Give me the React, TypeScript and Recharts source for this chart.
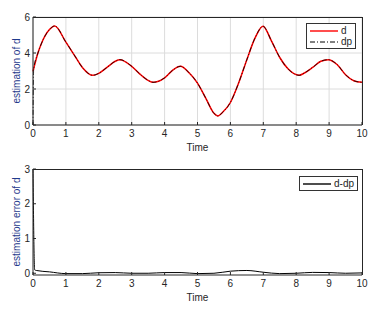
import React from 'react';
import {
  LineChart,
  Line,
  XAxis,
  YAxis,
  CartesianGrid,
  Legend,
} from 'recharts';

const timeTop = [
  0, 0.02, 0.15, 0.25, 0.5, 0.66, 1, 1.25, 1.5, 1.82, 2, 2.25, 2.5, 2.64, 3,
  3.25, 3.5, 3.65, 4, 4.25, 4.48, 4.75, 5, 5.25, 5.5, 5.62, 5.75, 6, 6.25, 6.5,
  6.75, 6.99, 7.25, 7.5, 7.75, 8.09, 8.25, 8.5, 8.75, 8.97, 9.25, 9.5, 9.75, 10,
];
const dValues = [
  2.98, 3.12, 4.0, 4.5, 5.3, 5.5, 4.6, 3.9, 3.2, 2.76, 2.87, 3.2, 3.54, 3.63,
  3.26, 2.83, 2.48, 2.37, 2.62, 3.05, 3.26, 2.89, 2.33, 1.49, 0.65, 0.5, 0.68,
  1.25, 2.33, 3.63, 4.84, 5.49, 4.66, 3.75, 3.12, 2.76, 2.89, 3.2, 3.54, 3.63,
  3.35, 2.79, 2.46, 2.37,
];
const dpValues = [
  0, 3.1, 4.0, 4.5, 5.3, 5.5, 4.6, 3.9, 3.2, 2.76, 2.87, 3.2, 3.54, 3.63,
  3.26, 2.83, 2.48, 2.37, 2.62, 3.05, 3.26, 2.89, 2.33, 1.49, 0.65, 0.5, 0.68,
  1.25, 2.33, 3.63, 4.84, 5.49, 4.66, 3.75, 3.12, 2.76, 2.89, 3.2, 3.54, 3.63,
  3.35, 2.79, 2.46, 2.37,
];

const timeErr = [
  0, 0.05, 0.1, 0.5, 1, 1.5, 2, 2.5, 3, 3.5, 4, 4.5, 5, 5.5, 6, 6.5, 7, 7.5,
  8, 8.5, 9, 9.5, 10,
];
const errValues = [
  3.0, 0.1, 0.08, 0.04, -0.01, -0.01, 0.015, 0.02, 0.0, 0.0, 0.02, 0.02,
  -0.01, 0.0, 0.06, 0.08, 0.03, -0.01, 0.0, 0.025, 0.02, 0.0, 0.01,
];

const xTicks = [0, 1, 2, 3, 4, 5, 6, 7, 8, 9, 10];
const yTicksTop = [0, 2, 4, 6];
const yTicksErr = [0, 1, 2, 3];

const topData = timeTop.map((t, i) => ({ t, d: dValues[i], dp: dpValues[i] }));
const errData = timeErr.map((t, i) => ({ t, e: errValues[i] }));

const FONT = 'Liberation Sans, Arial, sans-serif';
const AXIS = '#262626';
const LABEL_BLUE = '#1f3a8c';
const tickStyle = { fontSize: 10, fill: AXIS, fontFamily: FONT };

const LegendBox = ({ items }: { items: { name: string; color: string; dash?: string }[] }) => (
  <div
    style={{
      border: '1px solid #333',
      background: '#fff',
      padding: '1px 3px',
      fontFamily: FONT,
      fontSize: 10,
      color: AXIS,
      lineHeight: '11px',
    }}
  >
    {items.map((it) => (
      <div key={it.name} style={{ display: 'flex', alignItems: 'center' }}>
        <svg width={28} height={10} style={{ marginRight: 3 }}>
          <line
            x1={0}
            y1={5}
            x2={28}
            y2={5}
            stroke={it.color}
            strokeWidth={it.dash ? 1 : 1.4}
            strokeDasharray={it.dash}
          />
        </svg>
        <span>{it.name}</span>
      </div>
    ))}
  </div>
);

// top + right edges of the MATLAB axes box
const boxEdge = (top: number, height: number) => (
  <div
    style={{
      position: 'absolute',
      left: 33,
      top,
      width: 330,
      height,
      boxSizing: 'border-box',
      borderTop: `1px solid ${AXIS}`,
      borderRight: `1px solid ${AXIS}`,
      pointerEvents: 'none',
    }}
  />
);

export default function App() {
  return (
    <div style={{ position: 'absolute', left: 0, top: 0, width: 379, height: 310, background: '#fff' }}>
      <LineChart
        width={379}
        height={155}
        data={topData}
        margin={{ top: 17, right: 17, bottom: 0, left: 0 }}
      >
        <CartesianGrid stroke="#dcdcdc" strokeWidth={1} />
        <XAxis
          type="number"
          dataKey="t"
          domain={[0, 10]}
          ticks={xTicks}
          height={30}
          tickSize={-3}
          tickMargin={8}
          tick={tickStyle}
          stroke={AXIS}
          label={{ value: 'Time', position: 'insideBottom', offset: 4, fontSize: 10, fill: AXIS, fontFamily: FONT }}
        />
        <YAxis
          type="number"
          domain={[0, 6]}
          ticks={yTicksTop}
          width={33}
          tickSize={-3}
          tickMargin={6}
          tick={tickStyle}
          stroke={AXIS}
          label={{ value: 'estimation of d', angle: -90, position: 'center', fontSize: 10, fill: LABEL_BLUE, fontFamily: FONT }}
        />
        <Legend
          layout="vertical"
          align="center"
          verticalAlign="middle"
          wrapperStyle={{ left: 306, top: 23, width: 'auto', height: 'auto' }}
          content={() => (
            <LegendBox
              items={[
                { name: 'd', color: '#ff0000' },
                { name: 'dp', color: '#000', dash: '5 2 1 2' },
              ]}
            />
          )}
        />
        <Line
          type="monotone"
          dataKey="d"
          stroke="#ff0000"
          strokeWidth={1.5}
          dot={false}
          isAnimationActive={false}
        />
        <Line
          type="monotone"
          dataKey="dp"
          stroke="#000"
          strokeWidth={0.8}
          strokeDasharray="5 2 1 2"
          dot={false}
          isAnimationActive={false}
        />
      </LineChart>
      <LineChart
        width={379}
        height={155}
        data={errData}
        margin={{ top: 14, right: 17, bottom: 0, left: 0 }}
      >
        <XAxis
          type="number"
          dataKey="t"
          domain={[0, 10]}
          ticks={xTicks}
          height={35}
          tickSize={-3}
          tickMargin={8}
          tick={tickStyle}
          stroke={AXIS}
          label={{ value: 'Time', position: 'insideBottom', offset: 9, fontSize: 10, fill: AXIS, fontFamily: FONT }}
        />
        <YAxis
          type="number"
          domain={[-0.05, 3]}
          allowDataOverflow
          ticks={yTicksErr}
          width={33}
          tickSize={-3}
          tickMargin={6}
          tick={tickStyle}
          stroke={AXIS}
          label={{ value: 'estimation error of d', angle: -90, position: 'center', fontSize: 10, fill: LABEL_BLUE, fontFamily: FONT }}
        />
        <Legend
          layout="vertical"
          align="center"
          verticalAlign="middle"
          wrapperStyle={{ left: 299, top: 21, width: 'auto', height: 'auto' }}
          content={() => (
            <LegendBox items={[{ name: 'd-dp', color: '#000' }]} />
          )}
        />
        <Line
          type="monotone"
          dataKey="e"
          stroke="#000"
          strokeWidth={1}
          dot={false}
          isAnimationActive={false}
        />
      </LineChart>
      {boxEdge(17, 108)}
      {boxEdge(169, 106)}
    </div>
  );
}
